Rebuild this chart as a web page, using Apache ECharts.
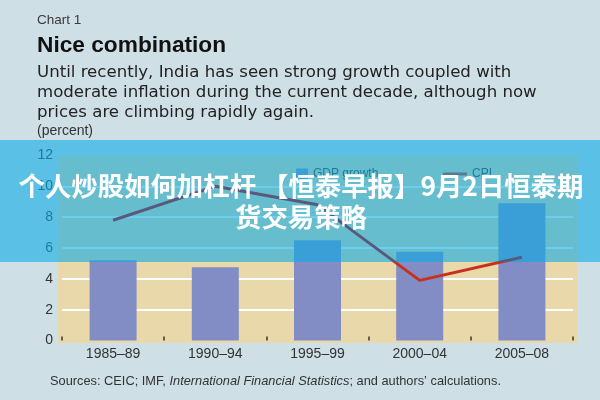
<!DOCTYPE html>
<html><head><meta charset="utf-8">
<script src="https://cdn.jsdelivr.net/npm/echarts@6/dist/echarts.min.js"></script>
<style>html,body{margin:0;padding:0;background:#cfdfe6}#c{width:600px;height:400px}</style>
</head><body><div id="c"></div>
<script>
const categories = ['1985–89', '1990–94', '1995–99', '2000–04', '2005–08'];
const gdpGrowth = [5.2, 4.75, 6.5, 5.75, 8.9];
const cpi = [7.8, 10.0, 8.8, 3.9, 5.4];
const yMin = 0, yMax = 12, yStep = 2;
const chartLabel = 'Chart 1';
const titleText = 'Nice combination';
const subtitleLines = [
  'Until recently, India has seen strong growth coupled with',
  'moderate inflation during the current decade, although now',
  'prices are climbing rapidly again.'
];
const unitText = '(percent)';
const bannerLines = ['个人炒股如何加杠杆 【恒泰早报】9月2日恒泰期', '货交易策略'];

const FONT = '"Liberation Sans", Arial, sans-serif';
const chart = echarts.init(document.getElementById('c'));
const graphics = [
  {type:'rect', z:-1, shape:{x:58, y:156, width:519, height:187}, style:{fill:'#e8d8aa'}},
  {type:'text', style:{text:chartLabel, x:37, y:20, verticalAlign:'middle', font:'13.5px ' + FONT, fill:'#3a3a3a'}},
  {type:'text', style:{text:titleText, x:37, y:46, verticalAlign:'middle', font:'bold 22.7px ' + FONT, fill:'#111'}},
  {type:'text', style:{text:unitText, x:37, y:131, verticalAlign:'middle', font:'14px ' + FONT, fill:'#333'}},
  {type:'text', style:{
    x:50, y:381, verticalAlign:'middle',
    text:'{a|Sources: CEIC; IMF, }{b|International Financial Statistics}{a|; and authors’ calculations.}',
    rich:{a:{fontSize:12.8, fontFamily:FONT, fill:'#333', color:'#333'}, b:{fontSize:12.8, fontFamily:FONT, fontStyle:'italic', fill:'#333', color:'#333'}}
  }},
  {type:'rect', z:100, shape:{x:0, y:140, width:600, height:122}, style:{fill:'rgba(13,171,228,0.6)'}}
];
subtitleLines.forEach((t, i) => graphics.push({type:'text', style:{text:t, x:37, y:73 + i * 20, verticalAlign:'middle', font:'16.6px "DejaVu Sans", sans-serif', fill:'#222'}}));
bannerLines.forEach((t, i) => graphics.push({type:'text', z:110, style:{text:t, x:301, y:186 + i * 31, align:'center', verticalAlign:'middle', font:'bold 26.4px "Noto Sans CJK SC", sans-serif', fill:'#fff'}}));

const lineColor = new echarts.graphic.LinearGradient(0, 140, 0, 400, [
  {offset:0, color:'#575a7c'}, {offset:0.469, color:'#575a7c'},
  {offset:0.469, color:'#c8301e'}, {offset:1, color:'#c8301e'}
], true);

chart.setOption({
  animation:false,
  backgroundColor:'#cfdfe6',
  grid:{left:62, right:27, top:155.5, bottom:59.5},
  legend:[
    {data:['GDP growth'], left:291, top:163, itemWidth:12, itemHeight:11, icon:'rect', textStyle:{color:'#333', fontSize:12, fontFamily:FONT}},
    {data:['CPI'], left:438, top:163, itemWidth:24, itemHeight:3, icon:'rect', itemStyle:{color:'#c8301e'}, textStyle:{color:'#333', fontSize:12, fontFamily:FONT}}
  ],
  xAxis:{type:'category', data:categories,
    axisLine:{show:false},
    axisTick:{show:true, inside:true, length:4, lineStyle:{color:'#333', width:1.5}},
    axisLabel:{color:'#333', fontSize:14, fontFamily:FONT, margin:7}},
  yAxis:{type:'value', min:yMin, max:yMax, interval:yStep,
    axisLine:{show:false}, axisTick:{show:false},
    axisLabel:{color:'#333', fontSize:14, fontFamily:FONT, margin:9},
    splitLine:{show:true, showMinLine:false, showMaxLine:false, lineStyle:{color:'#ffffff', width:2}}},
  series:[
    {name:'GDP growth', type:'bar', data:gdpGrowth, barWidth:47, itemStyle:{color:'#818dc4'}},
    {name:'CPI', type:'line', data:cpi, symbol:'none', z:105, itemStyle:{color:'#c8301e'}, lineStyle:{color:lineColor, width:3}}
  ],
  graphic:graphics
});
</script></body></html>
